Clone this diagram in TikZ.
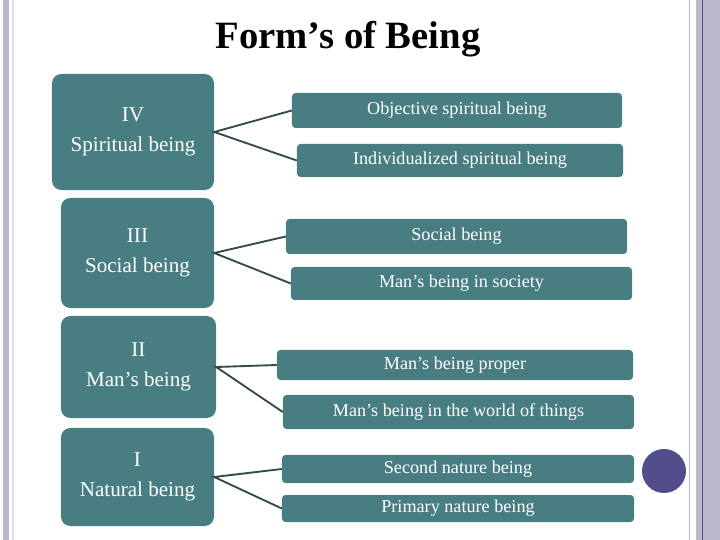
\documentclass[tikz,border=0pt]{standalone}
\usepackage{fontspec}
\setmainfont{Liberation Serif}
\usepackage{xcolor}
\definecolor{teal}{RGB}{72,125,130}
\definecolor{wire}{RGB}{50,75,80}
\definecolor{stripe}{RGB}{186,184,202}
\definecolor{pale}{RGB}{222,220,236}
\definecolor{ink}{RGB}{82,78,140}
\usepackage{tikz}
\usetikzlibrary{positioning}

\begin{document}
\begin{tikzpicture}[
    x=0.03cm, y=-0.03cm,
    formbox/.style={fill=teal, rounded corners=8pt, inner sep=0pt, align=center,
        text=white, font=\fontsize{18}{25}\selectfont},
    kindbox/.style={fill=teal, rounded corners=3pt, inner sep=0pt,
        text=white, font=\fontsize{15.5}{18}\selectfont},
    link/.style={draw=wire, line width=1.6pt}
    ]
    \useasboundingbox (0,0) rectangle (720,540);

    % frame of the slide
    \fill[stripe] (3,0) rectangle (9,540);
    \draw[pale, line width=1pt] (13,0) -- (13,540);
    \draw[stripe, line width=1.5pt] (689.5,0) -- (689.5,540);
    \fill[stripe] (696,0) rectangle (720,540);
    \draw[ink, line width=1pt] (702.5,0) -- (702.5,540);
    \fill[ink] (664,471) circle (22);

    \node (title) at (348,39) {\fontsize{33}{38}\selectfont\bfseries Form’s of Being};

    % forms
    \node[formbox, minimum width=4.86cm, minimum height=3.48cm] (iv) at (133,132)
        {IV\\Spiritual being};
    \node[formbox, minimum width=4.59cm, minimum height=3.3cm] (iii) at (137.5,253)
        {III\\Social being};
    \node[formbox, minimum width=4.65cm, minimum height=3.06cm] (ii) at (138.5,367)
        {II\\Man’s being};
    \node[formbox, minimum width=4.59cm, minimum height=2.94cm] (i) at (137.5,477)
        {I\\Natural being};

    % kinds
    \node[kindbox, minimum width=9.9cm, minimum height=1.05cm] (obj) at (457,110.5)
        {Objective spiritual being};
    \node[kindbox, minimum width=9.78cm, minimum height=0.99cm] (ind) at (460,160.5)
        {Individualized spiritual being};
    \node[kindbox, minimum width=10.23cm, minimum height=1.05cm] (soc) at (456.5,236.5)
        {Social being};
    \node[kindbox, minimum width=10.23cm, minimum height=0.99cm] (society) at (461.5,283.5)
        {Man’s being in society};
    \node[kindbox, minimum width=10.68cm, minimum height=0.9cm] (proper) at (455,365)
        {Man’s being proper};
    \node[kindbox, minimum width=10.53cm, minimum height=1.02cm] (things) at (458.5,412)
        {Man’s being in the world of things};
    \node[kindbox, minimum width=10.56cm, minimum height=0.84cm] (second) at (458,469)
        {Second nature being};
    \node[kindbox, minimum width=10.56cm, minimum height=0.81cm] (primary) at (458,508.5)
        {Primary nature being};

    \draw[link] (obj.west) -- (iv.east) -- (ind.west);
    \draw[link] (soc.west) -- (iii.east) -- (society.west);
    \draw[link] (proper.west) -- (ii.east) -- (things.west);
    \draw[link] (second.west) -- (i.east) -- (primary.west);
\end{tikzpicture}
\end{document}
